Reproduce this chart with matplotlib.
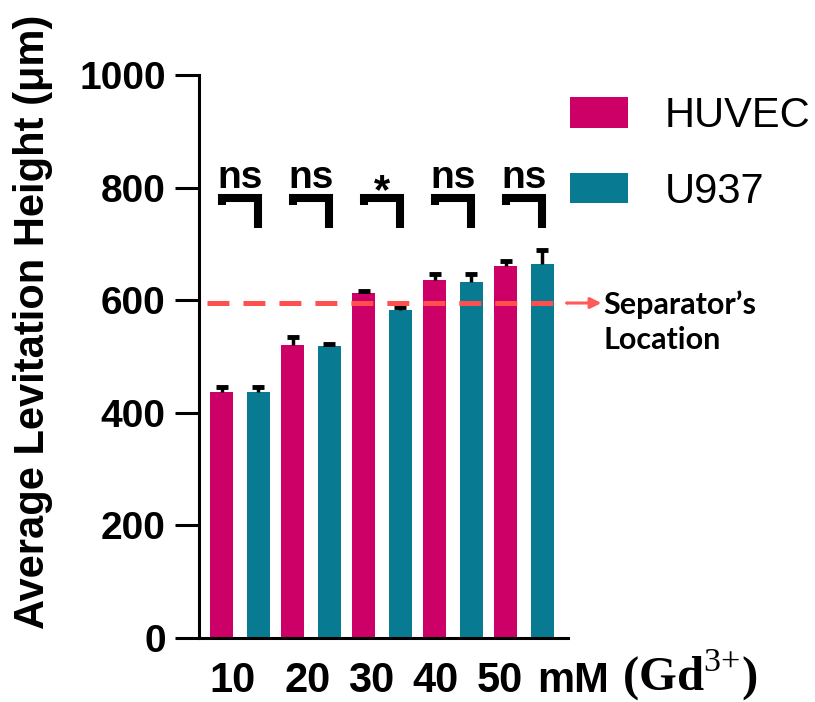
import numpy as np
import matplotlib as mpl
mpl.use('Agg')
import matplotlib.pyplot as plt

plt.rcParams['font.family'] = 'Liberation Sans'
plt.rcParams['mathtext.fontset'] = 'custom'
plt.rcParams['mathtext.rm'] = 'Liberation Serif'
plt.rcParams['lines.scale_dashes'] = False

# ----------------
# Data
# ----------------
conc = ['10', '20', '30', '40', '50']
huvec = [437, 520, 612, 635, 661]
huvec_err = [9, 14, 5, 12, 9]
u937 = [437, 518, 583, 632, 664]
u937_err = [9, 5, 5, 14, 26]
sig = ['ns', 'ns', '*', 'ns', 'ns']
separator = 595

# where the typed axis labels sit (data x)
label_x = [-0.11, 0.95, 1.85, 2.75, 3.66]

c_huvec = '#CC0066'
c_u937 = '#087B93'
c_sep = '#FF5050'

fig = plt.figure(figsize=(8.15, 7.02), dpi=100)
ax = fig.add_axes([199 / 815, 1 - 638 / 702, 369 / 815, 563 / 702])

x = np.arange(len(conc))
w = 0.32
off = 0.26
ax.bar(x - off, huvec, w, color=c_huvec, label='HUVEC', zorder=2)
ax.bar(x + off, u937, w, color=c_u937, label='U937', zorder=2)

# only upper half of the error bars
for xs, ys, es in [(x - off, huvec, huvec_err), (x + off, u937, u937_err)]:
    eb = ax.errorbar(xs, ys, yerr=[np.zeros(len(es)), es], fmt='none', ecolor='black',
                     elinewidth=2.5, capsize=4.5, capthick=3.5, zorder=3)
    eb[1][0].set_visible(False)

ax.set_xlim(-0.577, 4.62)
ax.set_ylim(0, 1000)
ax.set_yticks([0, 200, 400, 600, 800, 1000])
ax.set_xticks([])
ax.tick_params(axis='y', length=17, width=2.2, pad=7, labelsize=28)
for lab in ax.get_yticklabels():
    lab.set_fontweight('bold')
for s in ['top', 'right']:
    ax.spines[s].set_visible(False)
for s in ['left', 'bottom']:
    ax.spines[s].set_linewidth(2.2)

# separator line + arrow
ax.plot([-0.46, 4.60], [separator, separator], color=c_sep, lw=3.6,
        dashes=(15.8, 10.1), dash_capstyle='butt', zorder=4, clip_on=False)
ax.annotate('', xy=(5.09, separator), xytext=(4.60, separator),
            arrowprops=dict(arrowstyle='-|>', color='#FF5A5A', lw=2.2,
                            mutation_scale=16, shrinkA=0, shrinkB=0),
            annotation_clip=False)
fig.text(603 / 815, 1 - 322 / 702, 'Separator\u2019s\nLocation', family='Lato',
         fontweight='bold', fontsize=22, ha='left', va='center', linespacing=1.3)

# significance brackets
for i, s in enumerate(sig):
    x0, x1 = i - off, i + off
    ax.plot([x0, x0, x1, x1], [769, 782, 782, 728], color='black', lw=5.8,
            solid_joinstyle='miter', solid_capstyle='butt', clip_on=False, zorder=5)
    if s == '*':
        ax.text(i, 772, s, ha='center', va='baseline', fontsize=30, fontweight='bold')
    else:
        ax.text(i, 800, s, ha='center', va='baseline', fontsize=28, fontweight='bold')

# x labels typed under the axis
tr = ax.get_xaxis_transform()
for lx, c in zip(label_x, conc):
    ax.text(lx, -0.096, c, transform=tr, ha='center', va='baseline',
            fontsize=30, fontweight='bold')
ax.text(4.18, -0.096, 'mM', transform=tr, ha='left', va='baseline',
        fontsize=30, fontweight='bold')
ax.text(5.38, -0.093, '(Gd$^{3{+}}$)', transform=tr, ha='left', va='baseline',
        family='Liberation Serif', fontsize=35, fontweight='bold')

fig.text(33 / 815, 1 - 322 / 702, 'Average Levitation Height (\u03bcm)', rotation=90,
         ha='center', va='center', fontsize=30, fontweight='bold')

ax.legend(loc='upper left', bbox_to_anchor=(570 / 815, 1 - 96 / 702),
          bbox_transform=fig.transFigure, frameon=False, fontsize=30,
          borderpad=0, borderaxespad=0, handlelength=1.39, handleheight=0.74,
          handletextpad=0.89, labelspacing=0.86)

fig.savefig('out.png', dpi=100)
